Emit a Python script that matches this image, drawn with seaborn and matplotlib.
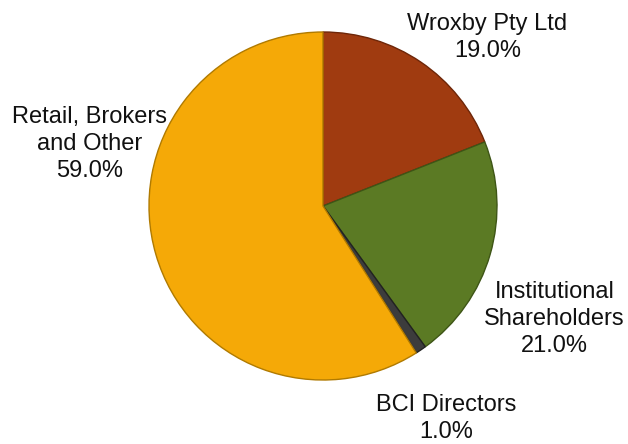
import matplotlib
matplotlib.use("Agg")
import matplotlib.pyplot as plt
import seaborn as sns

sns.set_theme(style="white")
plt.rcParams['font.family'] = ['Liberation Sans', 'DejaVu Sans']

categories = ["Wroxby Pty Ltd", "Institutional\nShareholders", "BCI Directors", "Retail, Brokers\nand Other"]
shares = [19.0, 21.0, 1.0, 59.0]
colors = ["#A03B10", "#5B7A24", "#3C3C3C", "#F5A907"]
edge_colors = ["#6E2608", "#3E5516", "#222222", "#B07A00"]

# label centres in pie-radius units (layout only)
label_pos = [(0.945, 0.97), (1.33, -0.65), (0.71, -1.22), (-1.34, 0.355)]

W, H = 628, 444
fig = plt.figure(figsize=(W / 100, H / 100), dpi=100)
cx, cy, r = 323, 206, 174
ax = fig.add_axes([(cx - r) / W, (H - cy - r) / H, 2 * r / W, 2 * r / H])

wedges, _ = ax.pie(shares, colors=colors, startangle=90, counterclock=False,
                   radius=1.0, wedgeprops=dict(linewidth=1.0))
for w, ec in zip(wedges, edge_colors):
    w.set_edgecolor(ec)

for cat, val, (x, y) in zip(categories, shares, label_pos):
    ax.text(x, y, f"{cat}\n{val:.1f}%", ha="center", va="center",
            fontsize=17, color="#111111", linespacing=1.3, clip_on=False)

ax.set_xlim(-1, 1)
ax.set_ylim(-1, 1)
ax.set_aspect("equal")
ax.axis("off")

fig.savefig("out.png", dpi=100)
